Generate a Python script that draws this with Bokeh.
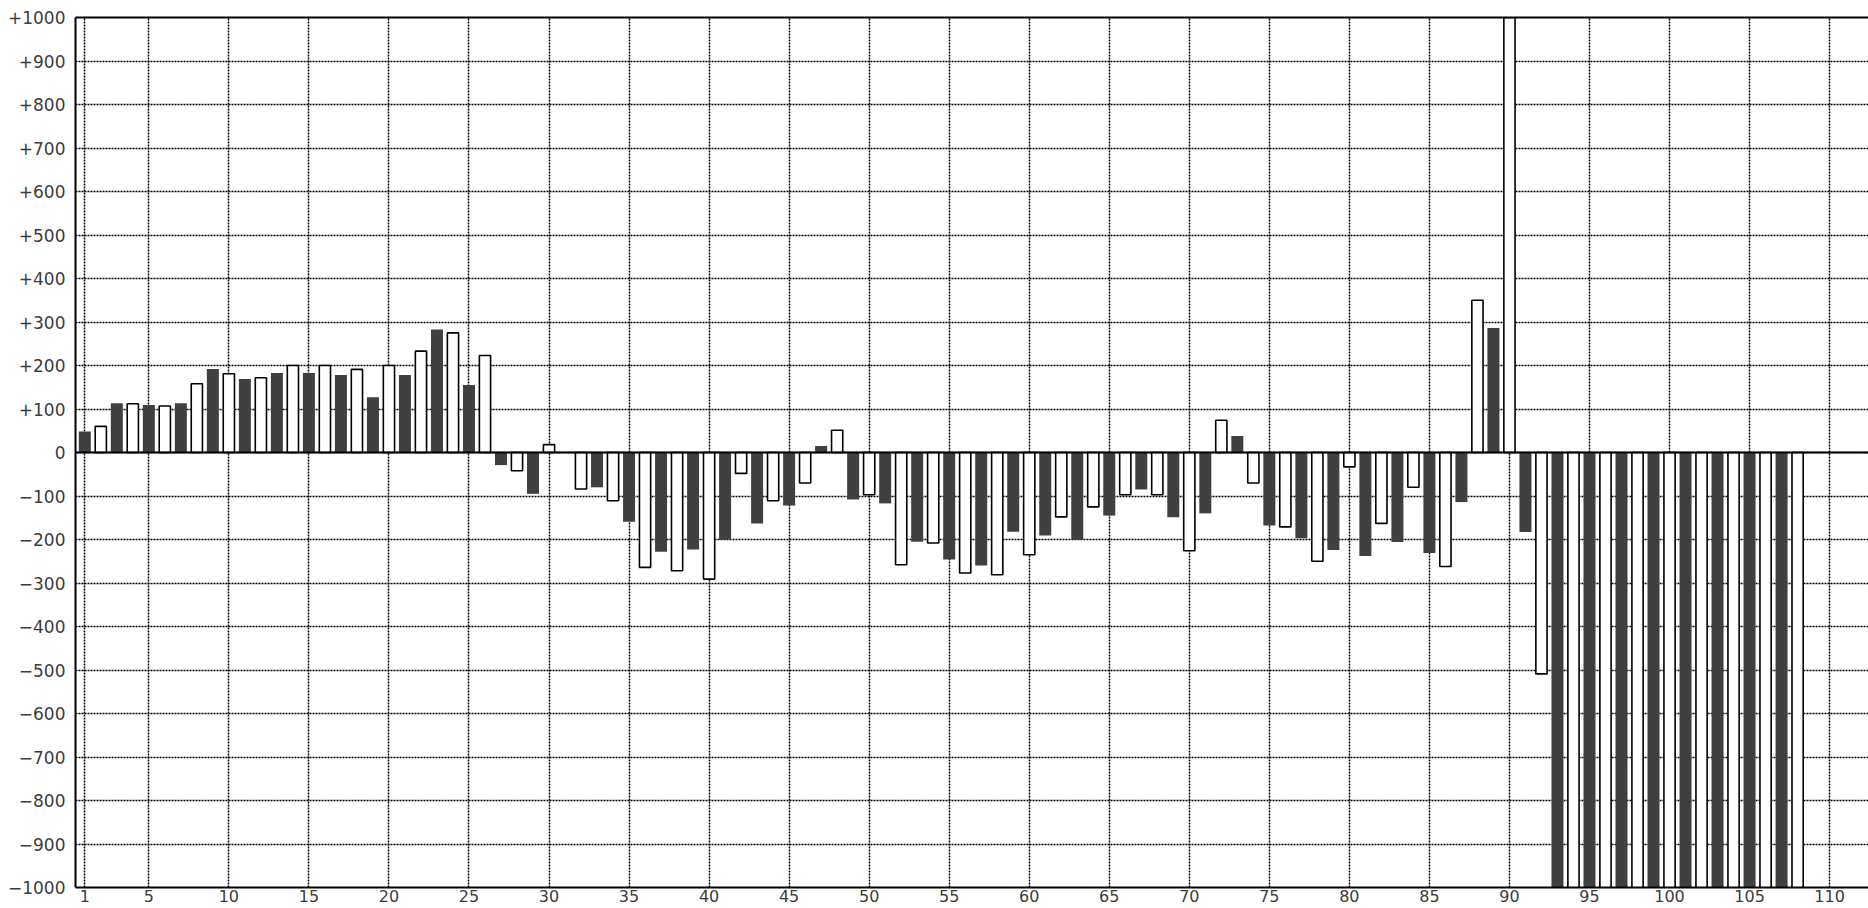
from bokeh.plotting import figure
from bokeh.models import (FixedTicker, Range1d, Span, LinearAxis, Grid)
from bokeh.embed import file_html
from bokeh.resources import INLINE

# Dark (filled) series at odd positions, white (outlined) series at even positions
dark_x = list(range(1, 108, 2))
dark_values = [
    48, 113, 109, 113, 192, 169, 183, 183, 178, 127,
    178, 283, 155, -29, -95, 0, -80, -159, -228, -223,
    -200, -163, -122, 15, -108, -117, -205, -246, -260, -182,
    -191, -200, -145, -85, -149, -140, 38, -168, -197, -224,
    -238, -206, -231, -114, 286, -183, -1500, -1500, -1500, -1500,
    -1500, -1500, -1500, -1500,
]
white_x = list(range(2, 109, 2))
white_values = [
    60, 112, 107, 158, 181, 172, 200, 200, 191, 200,
    233, 275, 223, -42, 18, -84, -111, -264, -272, -291,
    -48, -111, -70, 51, -97, -258, -208, -277, -281, -235,
    -148, -125, -97, -97, -226, 74, -70, -171, -250, -33,
    -163, -80, -262, 350, 1500, -509, -1500, -1500, -1500, -1500,
    -1500, -1500, -1500, -1500,
]
x_ticks = [1] + list(range(5, 111, 5))
y_ticks = list(range(-1000, 1001, 100))


def ylab(v):
    if v > 0:
        return "+%d" % v
    if v < 0:
        return "\u2212%d" % abs(v)
    return "0"


y_labels = {v: ylab(v) for v in y_ticks}

p = figure(width=1868, height=908, output_backend="svg", toolbar_location=None,
           x_range=Range1d(0.419, 112.43), y_range=Range1d(-1000, 1000),
           min_border_left=75, min_border_top=17, min_border_right=0,
           min_border_bottom=21, x_axis_type=None, y_axis_type=None)
p.outline_line_color = None
p.background_fill_color = "white"
p.border_fill_color = "white"

font = "DejaVu Sans"
xaxis = LinearAxis(ticker=FixedTicker(ticks=x_ticks))
xaxis.major_label_overrides = {t: str(t) for t in x_ticks}
yaxis = LinearAxis(ticker=FixedTicker(ticks=y_ticks))
yaxis.major_label_overrides = y_labels
for ax in (xaxis, yaxis):
    ax.axis_line_color = "black"
    ax.axis_line_width = 2
    ax.major_tick_out = 0
    ax.major_tick_in = 0
    ax.minor_tick_out = 0
    ax.minor_tick_in = 0
    ax.major_label_text_font = font
    ax.major_label_text_font_size = "16px"
    ax.major_label_text_color = "#3c3c3c"
xaxis.major_label_standoff = 2
yaxis.major_label_standoff = 10
yaxis.major_label_text_font_size = "17px"
p.add_layout(xaxis, "below")
p.add_layout(yaxis, "left")

top_axis = LinearAxis(ticker=FixedTicker(ticks=[]))
top_axis.axis_line_color = "black"
top_axis.axis_line_width = 2
top_axis.major_tick_out = 0
top_axis.minor_tick_out = 0
top_axis.major_label_text_font_size = "0px"
p.add_layout(top_axis, "above")

xgrid = Grid(dimension=0, ticker=FixedTicker(ticks=x_ticks))
ygrid = Grid(dimension=1, ticker=FixedTicker(ticks=y_ticks))
for g in (xgrid, ygrid):
    g.grid_line_color = "black"
    g.grid_line_width = 1.5
    g.grid_line_dash = "2 1"
    p.add_layout(g)

p.vbar(x=dark_x, top=dark_values, bottom=0, width=0.75,
       fill_color="#404040", line_color=None)
p.vbar(x=white_x, top=white_values, bottom=0, width=0.7,
       fill_color="white", line_color="black", line_width=1.6)

p.add_layout(Span(location=0, dimension="width", line_color="black", line_width=2))

open("out.html", "w").write(file_html(p, INLINE))
